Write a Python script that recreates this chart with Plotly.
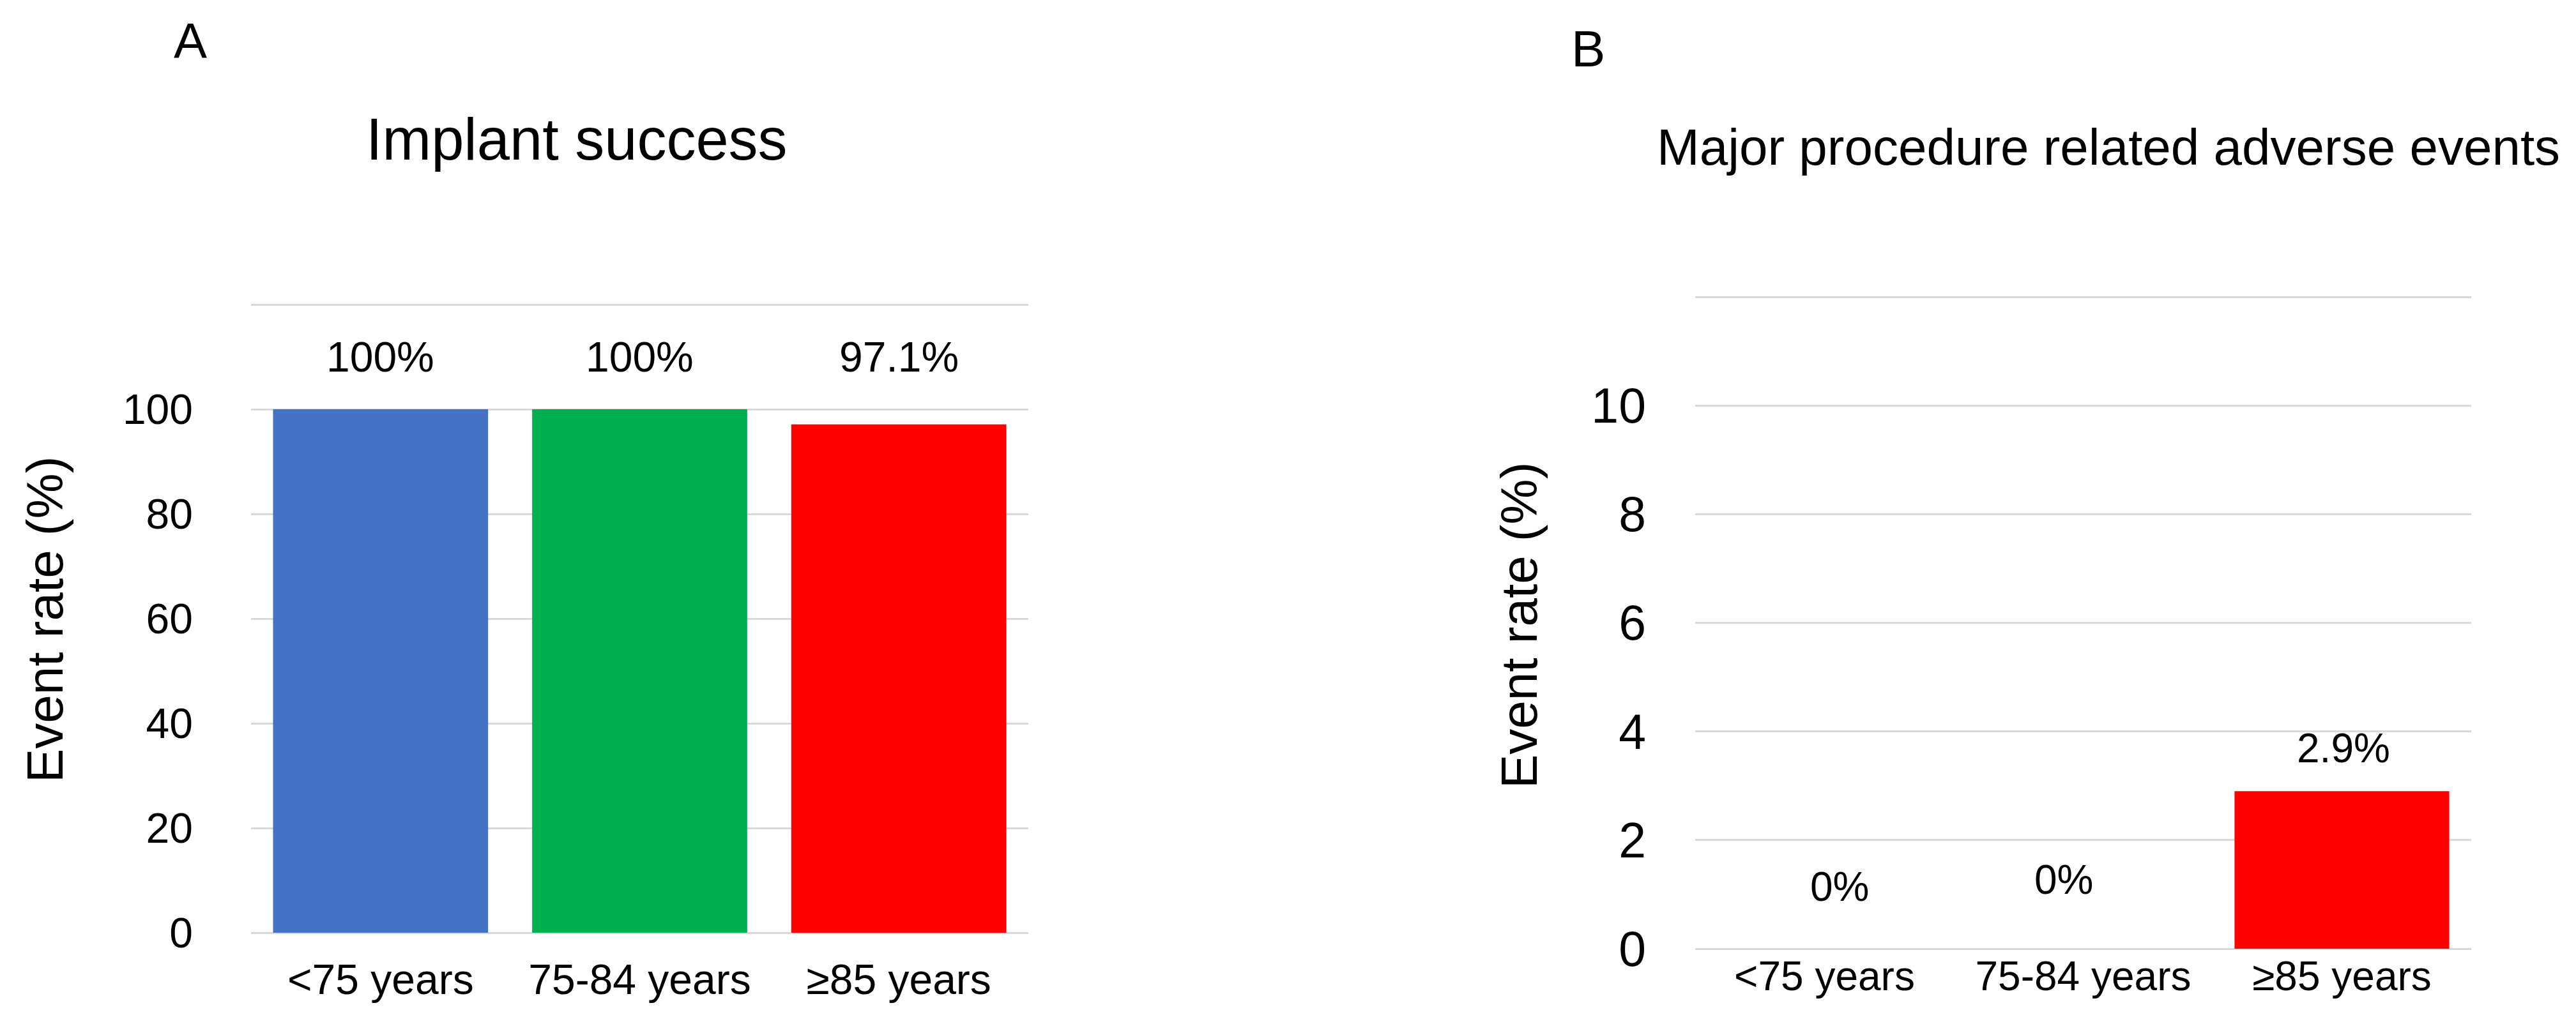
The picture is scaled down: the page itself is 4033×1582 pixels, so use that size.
import plotly.graph_objects as go

# ---------------- data ----------------
categories = ["<75 years", "75-84 years", "≥85 years"]
implant_success = [100, 100, 97.1]
major_adverse = [0, 0, 2.9]
bar_colors = ["#4472C4", "#00B050", "#FF0000"]

title_a = "Implant success"
title_b = "Major procedure related adverse events"
y_title = "Event rate (%)"

ticks_a = [0, 20, 40, 60, 80, 100, 120]
ticks_b = [0, 2, 4, 6, 8, 10, 12]

# ---------------- styles ----------------
W, H = 4033, 1582
FONT = "Liberation Sans, Arial, sans-serif"
GRID = "#d9d9d9"

# label pixel shifts above the bar top (per bar)
shift_a = [82, 82, 106]
shift_b = [97, 108, 67]
xshift_b = [24, -30, 2]


def px_x(p):
    return p / W


def px_y(p):
    return 1 - p / H


fig = go.Figure()

fig.add_trace(go.Bar(x=categories, y=implant_success, marker_color=bar_colors,
                     marker_line_width=0, xaxis="x", yaxis="y", showlegend=False,
                     hoverinfo="x+y"))
fig.add_trace(go.Bar(x=categories, y=major_adverse, marker_color=bar_colors,
                     marker_line_width=0, xaxis="x2", yaxis="y2", showlegend=False,
                     hoverinfo="x+y"))

annotations = []
for i, (c, v) in enumerate(zip(categories, implant_success)):
    annotations.append(dict(x=c, y=v, xref="x", yref="y", text=f"{v:g}%",
                            showarrow=False, yshift=shift_a[i], yanchor="middle",
                            font=dict(size=66, color="#000", family=FONT)))
for i, (c, v) in enumerate(zip(categories, major_adverse)):
    annotations.append(dict(x=c, y=v, xref="x2", yref="y2", text=f"{v:g}%",
                            showarrow=False, yshift=shift_b[i], xshift=xshift_b[i],
                            yanchor="middle",
                            font=dict(size=64, color="#000", family=FONT)))

# panel letters and titles
annotations += [
    dict(x=px_x(298), y=px_y(64), xref="paper", yref="paper", text="A", showarrow=False,
         xanchor="center", yanchor="middle", font=dict(size=78, color="#000", family=FONT)),
    dict(x=px_x(2486), y=px_y(77), xref="paper", yref="paper", text="B", showarrow=False,
         xanchor="center", yanchor="middle", font=dict(size=80, color="#000", family=FONT)),
    dict(x=px_x(903), y=px_y(218), xref="paper", yref="paper", text=title_a, showarrow=False,
         xanchor="center", yanchor="middle", font=dict(size=92, color="#000", family=FONT)),
    dict(x=px_x(3301), y=px_y(230), xref="paper", yref="paper", text=title_b, showarrow=False,
         xanchor="center", yanchor="middle", font=dict(size=80, color="#000", family=FONT)),
    dict(x=px_x(70), y=px_y(971), xref="paper", yref="paper", text=y_title, showarrow=False,
         textangle=-90, xanchor="center", yanchor="middle",
         font=dict(size=80, color="#000", family=FONT)),
    dict(x=px_x(2379), y=px_y(980), xref="paper", yref="paper", text=y_title, showarrow=False,
         textangle=-90, xanchor="center", yanchor="middle",
         font=dict(size=80, color="#000", family=FONT)),
]

fig.update_layout(
    template="none",
    width=W, height=H,
    autosize=False,
    margin=dict(l=0, r=0, t=0, b=0, pad=0),
    paper_bgcolor="white", plot_bgcolor="white",
    bargap=0.17,
    font=dict(family=FONT, color="#000"),
    annotations=annotations,
    xaxis=dict(domain=[px_x(393), px_x(1610)], anchor="y", showgrid=False, automargin=False,
               showline=False, zeroline=False, ticks="", ticklabelstandoff=29,
               tickfont=dict(size=66, family=FONT, color="#000")),
    yaxis=dict(domain=[px_y(1461), px_y(468.8)], anchor="x", range=[0, 121], automargin=False,
               tickvals=ticks_a, ticktext=[str(t) if t <= 100 else "" for t in ticks_a],
               showgrid=True, gridcolor=GRID, gridwidth=3,
               zeroline=True, zerolinecolor=GRID, zerolinewidth=3,
               showline=False, ticks="", ticklabelstandoff=90,
               tickfont=dict(size=66, family=FONT, color="#000")),
    xaxis2=dict(domain=[px_x(2654), px_x(3869)], anchor="y2", showgrid=False, automargin=False,
                showline=False, zeroline=False, ticks="", ticklabelstandoff=0,
                tickfont=dict(size=64, family=FONT, color="#000")),
    yaxis2=dict(domain=[px_y(1486), px_y(456.5)], anchor="x2", range=[0, 12.1], automargin=False,
                tickvals=ticks_b, ticktext=[str(t) if t <= 10 else "" for t in ticks_b],
                showgrid=True, gridcolor=GRID, gridwidth=3,
                zeroline=True, zerolinecolor=GRID, zerolinewidth=3,
                showline=False, ticks="", ticklabelstandoff=76,
                tickfont=dict(size=77, family=FONT, color="#000")),
)

fig.write_html(
    "out.html",
    config={"displayModeBar": False},
    post_script="document.body.style.margin='0';document.body.style.overflow='hidden';",
)
